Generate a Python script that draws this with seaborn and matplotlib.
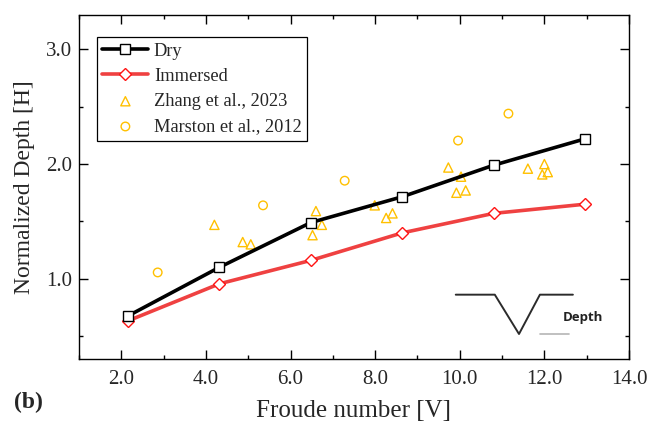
import matplotlib
matplotlib.use("Agg")
import matplotlib.pyplot as plt
from matplotlib.ticker import MultipleLocator, FormatStrFormatter
import seaborn as sns

# Model results
froude = [2.16, 4.32, 6.48, 8.64, 10.80, 12.96]
depth_dry = [0.676, 1.10, 1.49, 1.715, 1.99, 2.22]
depth_immersed = [0.633, 0.956, 1.16, 1.40, 1.57, 1.65]

# Reference data
zhang_froude = [4.20, 4.87, 5.06, 6.52, 6.60, 6.74, 7.99, 8.26, 8.41,
                9.73, 9.92, 10.03, 10.14, 11.61, 11.95, 12.00, 12.08]
zhang_depth = [1.47, 1.32, 1.30, 1.38, 1.59, 1.47, 1.64, 1.53, 1.57,
               1.97, 1.75, 1.89, 1.77, 1.96, 1.91, 2.00, 1.93]
marston_froude = [2.86, 5.35, 7.28, 9.96, 11.15]
marston_depth = [1.055, 1.64, 1.855, 2.205, 2.44]

x_ticks = [2.0, 4.0, 6.0, 8.0, 10.0, 12.0, 14.0]
y_ticks = [1.0, 2.0, 3.0]

sns.set_style("ticks")
plt.rcParams["font.family"] = ["Liberation Serif", "DejaVu Serif"]

fig = plt.figure(figsize=(6.58, 4.28), dpi=100)
ax = fig.add_axes([79 / 658, 69 / 428, 550 / 658, 344 / 428])

gold = "#FFC000"

sns.scatterplot(x=zhang_froude, y=zhang_depth, ax=ax, marker="^", s=44,
                facecolors="none", edgecolor=gold, linewidth=1.0,
                label="Zhang et al., 2023", zorder=2)
sns.scatterplot(x=marston_froude, y=marston_depth, ax=ax, marker="o", s=38,
                facecolors="none", edgecolor=gold, linewidth=1.0,
                label="Marston et al., 2012", zorder=2)
sns.lineplot(x=froude, y=depth_dry, ax=ax, color="black", linewidth=2.6,
             marker="s", markersize=6.5, markerfacecolor="white",
             markeredgecolor="black", markeredgewidth=1.0,
             label="Dry", zorder=4)
sns.lineplot(x=froude, y=depth_immersed, ax=ax, color="#EF4141",
             linewidth=2.6, marker="D", markersize=6.3,
             markerfacecolor="white", markeredgecolor="#FF1414",
             markeredgewidth=1.0, label="Immersed", zorder=3)

ax.set_xlim(1.0, 14.0)
ax.set_ylim(0.3, 3.3)
ax.set_xticks(x_ticks)
ax.set_yticks(y_ticks)
ax.xaxis.set_minor_locator(MultipleLocator(1.0))
ax.yaxis.set_minor_locator(MultipleLocator(0.5))
ax.xaxis.set_major_formatter(FormatStrFormatter("%.1f"))
ax.yaxis.set_major_formatter(FormatStrFormatter("%.1f"))
ax.tick_params(which="both", direction="in", top=True, right=True,
               color="black", width=1.0)
ax.tick_params(which="major", length=6.3, labelsize=15, pad=5)
ax.tick_params(which="minor", length=3.0)
ax.tick_params(axis="x", which="major", pad=8)
for sp in ax.spines.values():
    sp.set_visible(True)
    sp.set_color("black")
    sp.set_linewidth(1.0)

ax.set_xlabel("Froude number [V]", fontsize=18, labelpad=8)
ax.set_ylabel("Normalized Depth [H]", fontsize=17, labelpad=8)

# Legend in the original order
handles, labels = ax.get_legend_handles_labels()
order = ["Dry", "Immersed", "Zhang et al., 2023", "Marston et al., 2012"]
hmap = dict(zip(labels, handles))
leg = ax.legend([hmap[k] for k in order], order, loc="upper left",
                bbox_to_anchor=(0.032, 0.937), borderaxespad=0,
                fontsize=13.2, frameon=True, fancybox=False, shadow=False,
                handlelength=2.5, handletextpad=0.3, borderpad=0.32,
                labelspacing=0.45, numpoints=1)
leg.get_frame().set_edgecolor("black")
leg.get_frame().set_linewidth(0.9)
leg.get_frame().set_alpha(1.0)

# Crater schematic
tr = ax.transAxes
ax.plot([0.685, 0.756, 0.800, 0.838, 0.898],
        [0.187, 0.187, 0.0727, 0.187, 0.187],
        transform=tr, color="#2b2b2b", linewidth=1.4, zorder=5)
ax.plot([0.838, 0.891], [0.072, 0.072], transform=tr,
        color="#b5b5b5", linewidth=1.2, zorder=5)
ax.text(0.880, 0.122, "Depth", transform=tr, fontsize=9.5,
        fontweight="bold", family=["Open Sans", "DejaVu Sans"],
        color="#222222", ha="left", va="center", zorder=5)

fig.text(28 / 658, 1 - 402 / 428, "(b)", fontsize=17, fontweight="bold",
         ha="center", va="center")

fig.savefig("out.png", dpi=100)
